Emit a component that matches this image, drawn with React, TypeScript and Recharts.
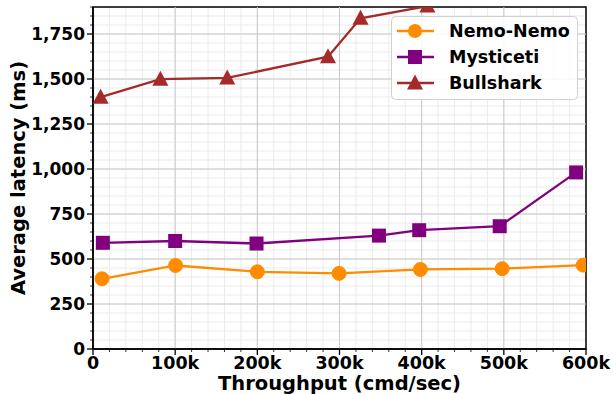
import { LineChart, Line, XAxis, YAxis, CartesianGrid, ReferenceLine, ReferenceArea, Legend, Label } from 'recharts';

const nemoX = [11000, 100500, 200000, 299500, 398500, 498000, 596500];
const nemoY = [390, 464, 429, 420, 442, 446, 466];
const mystX = [12000, 100000, 199000, 348000, 397000, 495000, 588000];
const mystY = [590, 600, 586, 630, 660, 682, 981];
const bullX = [9300, 82000, 163400, 286000, 325600, 407000, 485000];
const bullY = [1399, 1499, 1506, 1624, 1837, 1905, 1960];

const xTicks = Array.from({ length: 31 }, (_, i) => i * 20000);
const yTicks = Array.from({ length: 39 }, (_, i) => i * 50);
const xMajor = [100000, 200000, 300000, 400000, 500000];
const yMajor = [250, 500, 750, 1000, 1250, 1500, 1750];

const FONT = '"DejaVu Sans", sans-serif';
const ORANGE = '#ff8c00';
const PURPLE = '#800080';
const RED = '#a52a2a';

const toRows = (xs: number[], ys: number[]) => xs.map((x, i) => ({ x, y: ys[i] }));
const nemo = toRows(nemoX, nemoY);
const myst = toRows(mystX, mystY);
const bull = toRows(bullX, bullY);

const fmtX = (v: number) => (v === 0 ? '0' : `${v / 1000}k`);
const fmtY = (v: number) => v.toLocaleString('en-US');

function XTick(props: any) {
  const { x, y, payload } = props;
  const major = payload.value % 100000 === 0;
  return (
    <g>
      <line x1={x} x2={x} y1={y} y2={y + (major ? 6 : 3)} stroke="#000" strokeWidth={major ? 1.3 : 0.8} />
      {major && (
        <text x={x} y={y + 20} textAnchor="middle" fontFamily={FONT} fontWeight="bold" fontSize={17.5} fill="#000">
          {fmtX(payload.value)}
        </text>
      )}
    </g>
  );
}

function YTick(props: any) {
  const { x, y, payload } = props;
  const major = payload.value % 250 === 0;
  return (
    <g>
      <line x1={x} x2={x - (major ? 6 : 3)} y1={y} y2={y} stroke="#000" strokeWidth={major ? 1.3 : 0.8} />
      {major && (
        <text x={x - 8} y={y + 6} textAnchor="end" fontFamily={FONT} fontWeight="bold" fontSize={17} fill="#000">
          {fmtY(payload.value)}
        </text>
      )}
    </g>
  );
}

const circleDot = (p: any) => <circle key={`c-${p.index}`} cx={p.cx} cy={p.cy} r={7} fill={ORANGE} stroke={ORANGE} />;
const squareDot = (p: any) => (
  <rect key={`s-${p.index}`} x={p.cx - 7} y={p.cy - 7} width={14} height={14} fill={PURPLE} />
);
const triDot = (p: any) => (
  <polygon key={`t-${p.index}`} points={`${p.cx},${p.cy - 8.5} ${p.cx - 8},${p.cy + 6.5} ${p.cx + 8},${p.cy + 6.5}`} fill={RED} />
);

const legendItems = [
  { name: 'Nemo-Nemo', color: ORANGE, shape: 'circle' },
  { name: 'Mysticeti', color: PURPLE, shape: 'square' },
  { name: 'Bullshark', color: RED, shape: 'triangle' },
];

function LegendBox() {
  return (
    <svg width={187} height={84} style={{ display: 'block' }}>
      <rect x={0.5} y={0.5} width={186} height={83} rx={4} fill="rgba(255,255,255,0.85)" stroke="#d0d0d0" />
      {legendItems.map((it, i) => {
        const cy = 15 + i * 26;
        return (
          <g key={it.name}>
            <line x1={6} x2={43} y1={cy} y2={cy} stroke={it.color} strokeWidth={2.3} />
            {it.shape === 'circle' && <circle cx={24} cy={cy} r={7} fill={it.color} />}
            {it.shape === 'square' && <rect x={17} y={cy - 7} width={14} height={14} fill={it.color} />}
            {it.shape === 'triangle' && (
              <polygon points={`24,${cy - 8.5} 16,${cy + 6.5} 32,${cy + 6.5}`} fill={it.color} />
            )}
            <text x={58} y={cy + 6} fontFamily={FONT} fontWeight="bold" fontSize={17.5} fill="#000">
              {it.name}
            </text>
          </g>
        );
      })}
    </svg>
  );
}

export default function App() {
  return (
    <div style={{ position: 'absolute', left: 0, top: 0, width: 613, height: 394, background: '#fff' }}>
      <LineChart width={613} height={394} margin={{ top: 7, right: 27, left: 0, bottom: 0 }}>
        <CartesianGrid stroke="#ebebeb" strokeWidth={1} />
        {xMajor.map((v) => (
          <ReferenceLine key={`gx${v}`} x={v} stroke="#c8c8c8" strokeWidth={1} />
        ))}
        {yMajor.map((v) => (
          <ReferenceLine key={`gy${v}`} y={v} stroke="#c8c8c8" strokeWidth={1} />
        ))}
        <XAxis
          type="number"
          dataKey="x"
          domain={[0, 600000]}
          ticks={xTicks}
          interval={0}
          allowDataOverflow
          height={45}
          tickLine={false}
          tickSize={0}
          tickMargin={0}
          tick={<XTick />}
          axisLine={{ stroke: '#000', strokeWidth: 1.5 }}
        >
          <Label value="Throughput (cmd/sec)" position="insideBottom" offset={4} style={{ fontFamily: FONT, fontWeight: 'bold', fontSize: 19.5, fill: '#000' }} />
        </XAxis>
        <YAxis
          type="number"
          domain={[0, 1900]}
          ticks={yTicks}
          interval={0}
          allowDataOverflow
          width={93}
          tickLine={false}
          tickSize={0}
          tickMargin={0}
          tick={<YTick />}
          axisLine={{ stroke: '#000', strokeWidth: 1.5 }}
        >
          <Label value="Average latency (ms)" angle={-90} position="insideLeft" offset={18} style={{ fontFamily: FONT, fontWeight: 'bold', fontSize: 19.5, fill: '#000', textAnchor: 'middle' }} />
        </YAxis>
        <ReferenceArea x1={0} x2={600000} y1={0} y2={1900} fill="none" stroke="#000" strokeWidth={1.5} />
        <Line data={nemo} dataKey="y" name="Nemo-Nemo" stroke={ORANGE} strokeWidth={2.3} dot={circleDot} isAnimationActive={false} />
        <Line data={myst} dataKey="y" name="Mysticeti" stroke={PURPLE} strokeWidth={2.3} dot={squareDot} isAnimationActive={false} />
        <Line data={bull} dataKey="y" name="Bullshark" stroke={RED} strokeWidth={2.3} dot={triDot} isAnimationActive={false} />
        <Legend
          layout="vertical"
          align="center"
          verticalAlign="middle"
          content={() => <LegendBox />}
          wrapperStyle={{ position: 'absolute', left: 391, top: 16, width: 187, height: 84 }}
        />
      </LineChart>
    </div>
  );
}
